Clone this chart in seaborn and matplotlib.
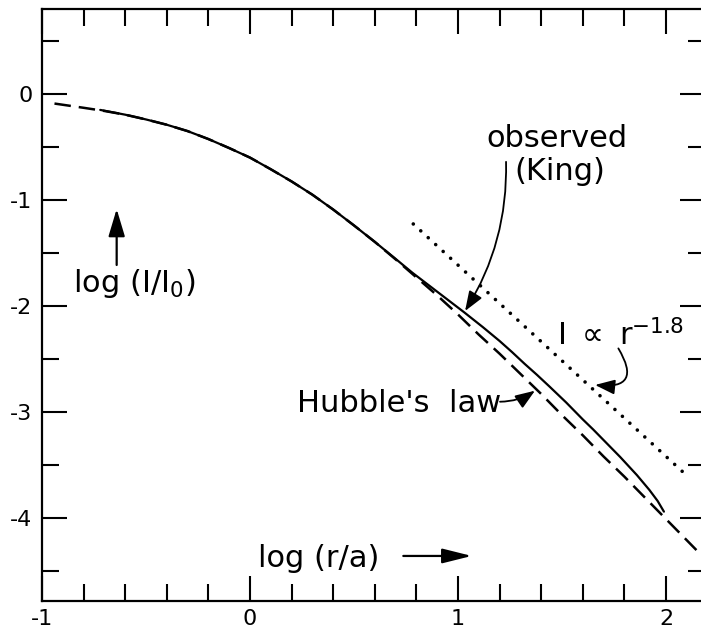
import matplotlib
matplotlib.use("Agg")
import matplotlib.pyplot as plt
import seaborn as sns
from matplotlib.ticker import FixedLocator, MultipleLocator

# ---- data ----
king_x = [-0.72, -0.6, -0.5, -0.4, -0.3, -0.2, -0.1, 0.0, 0.1, 0.2, 0.3, 0.4,
          0.5, 0.6, 0.7, 0.78, 0.85, 0.94, 1.03, 1.12, 1.2, 1.26, 1.32, 1.38, 1.44,
          1.52, 1.6, 1.65, 1.7, 1.78, 1.86, 1.92, 1.96, 1.99]
king_y = [-0.15, -0.195, -0.24, -0.29, -0.35, -0.425, -0.51, -0.60, -0.71, -0.825,
          -0.95, -1.09, -1.24, -1.395, -1.555, -1.685, -1.79, -1.925, -2.06, -2.20,
          -2.33, -2.435, -2.545, -2.65, -2.76, -2.91, -3.07, -3.165, -3.265, -3.425,
          -3.595, -3.735, -3.84, -3.94]

hubble_x = [-0.94, -0.8, -0.7, -0.6, -0.5, -0.4, -0.3, -0.2, -0.1, 0.0, 0.1, 0.2,
            0.3, 0.4, 0.5, 0.6, 0.7, 0.8, 0.9, 1.0, 1.1, 1.2, 1.3, 1.4, 1.5, 1.6,
            1.7, 1.8, 1.9, 2.0, 2.1, 2.17]
hubble_y = [-0.09, -0.13, -0.16, -0.195, -0.24, -0.29, -0.35, -0.425, -0.51, -0.60,
            -0.71, -0.825, -0.95, -1.09, -1.24, -1.395, -1.56, -1.73, -1.90, -2.08,
            -2.27, -2.45, -2.64, -2.83, -3.03, -3.22, -3.42, -3.61, -3.81, -4.01,
            -4.21, -4.35]

power_x = [0.785, 2.083]
power_y = [-1.226, -3.569]

xtick_vals = [-1, 0, 1, 2]
xtick_labels = ["-1", "0", "1", "2"]
ytick_vals = [0, -1, -2, -3, -4]
ytick_labels = ["0", "-1", "-2", "-3", "-4"]

# ---- style ----
sns.set_theme(style="ticks")
plt.rcParams['font.family'] = ['DejaVu Sans']
plt.rcParams['mathtext.default'] = 'regular'
plt.rcParams['text.color'] = 'black'
plt.rcParams['xtick.color'] = 'black'
plt.rcParams['ytick.color'] = 'black'

W, H = 701, 632
fig = plt.figure(figsize=(W / 100, H / 100), dpi=100, facecolor='white')
ax = fig.add_axes([42 / W, 31 / H, 663 / W, 592 / H])
ax.set_facecolor('white')

sns.lineplot(x=hubble_x, y=hubble_y, ax=ax, color='black', lw=1.8,
             linestyle=(0, (6.6, 3.2)), errorbar=None, sort=False)
sns.lineplot(x=king_x, y=king_y, ax=ax, color='black', lw=1.6,
             errorbar=None, sort=False)
sns.lineplot(x=power_x, y=power_y, ax=ax, color='black', lw=2.6,
             linestyle=(0, (0.01, 2.8)), dash_capstyle='round',
             errorbar=None, sort=False)

ax.set_xlim(-1, 2.1875)
ax.set_ylim(-4.783, 0.802)

ax.xaxis.set_major_locator(FixedLocator(xtick_vals))
ax.set_xticklabels(xtick_labels)
ax.xaxis.set_minor_locator(MultipleLocator(0.2))
ax.yaxis.set_major_locator(FixedLocator(ytick_vals))
ax.set_yticklabels(ytick_labels)
ax.yaxis.set_minor_locator(MultipleLocator(0.5))

ax.tick_params(which='both', direction='in', top=True, right=True,
               labeltop=False, labelright=False, color='black', width=1.5,
               labelsize=16, labelcolor='black')
ax.tick_params(which='major', length=18)
ax.tick_params(which='minor', length=12.2)
ax.tick_params(axis='y', which='both', pad=7)
ax.tick_params(axis='x', which='both', pad=6)
for s in ax.spines.values():
    s.set_linewidth(1.6)
    s.set_color('black')
ax.set_xlabel('')
ax.set_ylabel('')

fs = 22
ax.text(1.476, -0.50, "observed", ha='center', va='baseline', fontsize=fs, color='black')
ax.text(1.488, -0.811, "(King)", ha='center', va='baseline', fontsize=fs, color='black')
ax.text(0.2245, -2.997, "Hubble's  law", ha='left', va='baseline', fontsize=fs, color='black')
ax.text(0.040, -4.459, "log (r/a)", ha='left', va='baseline', fontsize=fs, color='black')
ax.text(-0.850, -1.865, "log (I/I$_0$)", ha='left', va='baseline', fontsize=fs,
        color='black')
ax.text(1.475, -2.368, r"I $\propto$ r$^{-1.8}$", ha='left', va='baseline', fontsize=fs,
        color='black')


def arrow(tip, start, rad=0.0, hl=0.4, hw=0.15, ms=30, lw=1.3):
    ax.annotate("", xy=tip, xytext=start,
                arrowprops=dict(arrowstyle=f"-|>,head_length={hl},head_width={hw}",
                                color='black', lw=lw, mutation_scale=ms,
                                shrinkA=0, shrinkB=0,
                                connectionstyle=f"arc3,rad={rad}"))


arrow((1.034, -2.047), (1.231, -0.64), rad=-0.15)
arrow((1.370, -2.799), (1.202, -2.903), rad=0.15)
arrow((1.659, -2.745), (1.771, -2.40), rad=-1.0)
arrow((-0.641, -1.085), (-0.641, -1.613), hl=0.6, hw=0.18, ms=28, lw=1.6)
arrow((1.066, -4.358), (0.737, -4.358), hl=0.6, hw=0.15, ms=30, lw=1.6)

fig.savefig("out.png", dpi=100, facecolor='white')
